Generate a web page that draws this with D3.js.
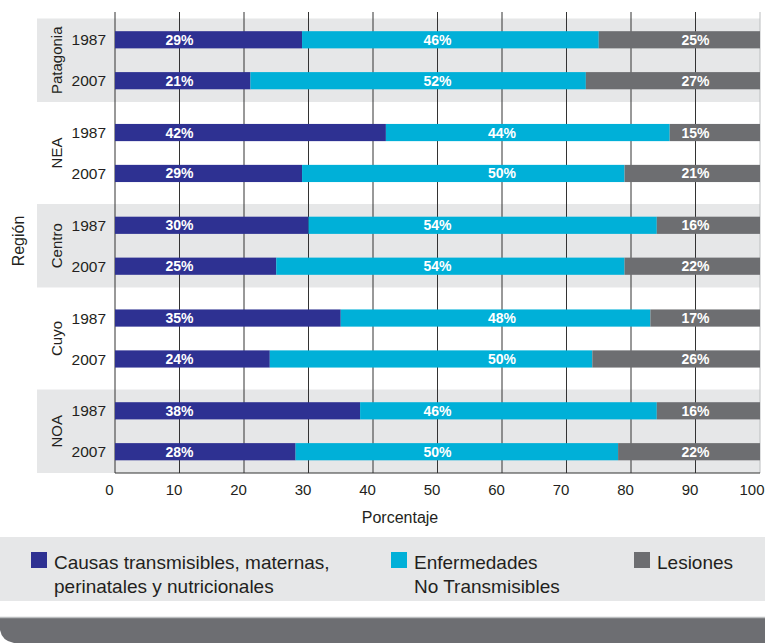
<!DOCTYPE html>
<html><head><meta charset="utf-8">
<script src="https://cdn.jsdelivr.net/npm/d3@7"></script>
<style>
body{margin:0;background:#fff}
svg{display:block;font-family:"Liberation Sans",Arial,Helvetica,sans-serif}
</style>
</head><body>
<svg id="chart" width="765" height="643"></svg>
<script>
// ---------- data ----------
const regions = ["Patagonia", "NEA", "Centro", "Cuyo", "NOA"];
const years = ["1987", "2007"];
// values per region/year, in order Patagonia 1987, Patagonia 2007, NEA 1987, ...
const causas       = [29, 21, 42, 29, 30, 25, 35, 24, 38, 28];
const enfermedades = [46, 52, 44, 50, 54, 54, 48, 50, 46, 50];
const lesiones     = [25, 27, 15, 21, 16, 22, 17, 26, 16, 22];
const seriesNames = [
  ["Causas transmisibles, maternas,", "perinatales y nutricionales"],
  ["Enfermedades", "No Transmisibles"],
  ["Lesiones"]
];
const xTicks = [0, 10, 20, 30, 40, 50, 60, 70, 80, 90, 100];
const xTitle = "Porcentaje";
const yTitle = "Región";

// ---------- build rows ----------
const rows = [];
regions.forEach((r, ri) => years.forEach((y, yi) => {
  const i = ri * 2 + yi;
  rows.push({region: r, ri, year: y, vals: [causas[i], enfermedades[i], lesiones[i]]});
}));

const colors = ["#2e3192", "#00b0d8", "#6d6e71"];
const svg = d3.select("#chart");

const x = d3.scaleLinear().domain([0, 100]).range([115, 760]);
const yR = d3.scaleBand().domain(regions).range([18.5, 473]).paddingInner(0.1).paddingOuter(0);
const yY = d3.scaleBand().domain(years).range([0, yR.bandwidth()]).paddingInner(0.58).paddingOuter(0.31);

// shaded bands
svg.append("g").selectAll("rect")
  .data(regions.filter((d, i) => i % 2 === 0))
  .join("rect")
  .attr("x", 37).attr("width", 760 - 37)
  .attr("y", d => yR(d)).attr("height", yR.bandwidth())
  .attr("fill", "#e6e7e8");

const axisY = yR(regions[regions.length - 1]) + yR.bandwidth();

// grid lines
svg.append("g").selectAll("line")
  .data(xTicks).join("line")
  .attr("x1", d => x(d)).attr("x2", d => x(d))
  .attr("y1", 12).attr("y2", axisY)
  .attr("stroke", d => d === 100 ? "#bcbec0" : "#333333")
  .attr("stroke-width", 1);

// bars
svg.append("clipPath").attr("id", "plotclip")
  .append("rect").attr("x", x(0)).attr("y", 0).attr("width", x(100) - x(0)).attr("height", 480);

const barG = svg.append("g").attr("clip-path", "url(#plotclip)");
rows.forEach(row => {
  const yTop = yR(row.region) + yY(row.year);
  let acc = 0;
  row.vals.forEach((v, k) => {
    barG.append("rect")
      .attr("x", x(acc)).attr("width", x(acc + v) - x(acc))
      .attr("y", yTop).attr("height", yY.bandwidth())
      .attr("fill", colors[k]);
    acc += v;
  });
});

// bar labels
const labG = svg.append("g");
rows.forEach(row => {
  const yc = yR(row.region) + yY(row.year) + yY.bandwidth() / 2;
  const anchors = [10, row.ri % 2 === 0 ? 50 : 60, 90];
  row.vals.forEach((v, k) => {
    labG.append("text")
      .attr("x", x(anchors[k])).attr("y", yc).attr("dy", "0.36em")
      .attr("text-anchor", "middle")
      .attr("fill", "#ffffff").attr("font-weight", "bold").attr("font-size", 14)
      .text(v + "%");
  });
});

// bottom axis line
svg.append("line").attr("x1", x(0)).attr("x2", x(100)).attr("y1", axisY).attr("y2", axisY)
  .attr("stroke", "#333333").attr("stroke-width", 1);

// x tick labels
const xAxis = d3.axisBottom(x).tickValues(xTicks).tickSize(0).tickPadding(0);
const xa = svg.append("g").attr("transform", "translate(-6,484)").call(xAxis);
xa.select(".domain").remove();
xa.selectAll("text").attr("font-size", 15).attr("fill", "#231f20")
  .attr("font-family", "'Liberation Sans',Arial,sans-serif");
// keep the last tick label inside the page
xa.selectAll(".tick").filter(d => d === 100).select("text")
  .attr("text-anchor", "end").attr("x", 10);

svg.append("text").attr("x", 400).attr("y", 523).attr("text-anchor", "middle")
  .attr("font-size", 16).attr("fill", "#231f20").text(xTitle);

// y labels: years
rows.forEach(row => {
  svg.append("text")
    .attr("x", 106).attr("y", yR(row.region) + yY(row.year) + yY.bandwidth() / 2)
    .attr("dy", "0.36em").attr("text-anchor", "end")
    .attr("font-size", 15.5).attr("fill", "#231f20").text(row.year);
});
// y labels: regions
regions.forEach(r => {
  const cy = yR(r) + yR.bandwidth() / 2;
  svg.append("text")
    .attr("transform", `translate(57,${cy}) rotate(-90)`)
    .attr("dy", "0.36em").attr("text-anchor", "middle")
    .attr("font-size", 15).attr("fill", "#231f20").text(r);
});
svg.append("text")
  .attr("transform", "translate(18,241) rotate(-90)")
  .attr("dy", "0.36em").attr("text-anchor", "middle")
  .attr("font-size", 16).attr("fill", "#231f20").text(yTitle);

// legend
svg.append("rect").attr("x", 0).attr("y", 537).attr("width", 765).attr("height", 64).attr("fill", "#e6e7e8");
const legX = [31, 391, 634];
seriesNames.forEach((lines, k) => {
  svg.append("rect").attr("x", legX[k]).attr("y", 552).attr("width", 16).attr("height", 16).attr("fill", colors[k]);
  const t = svg.append("text").attr("x", legX[k] + 23).attr("y", 569)
    .attr("font-size", 19).attr("fill", "#231f20");
  lines.forEach((ln, j) => {
    t.append("tspan").attr("x", legX[k] + 23).attr("dy", j === 0 ? 0 : 24).text(ln);
  });
});

// footer
svg.append("path")
  .attr("d", "M0,617 H765 V643 H14 Q2,641 0,630 Z")
  .attr("fill", "#6d6e72");
svg.append("line").attr("x1", 0).attr("x2", 765).attr("y1", 617.5).attr("y2", 617.5)
  .attr("stroke", "#bcbec0").attr("stroke-width", 1.5);
</script>
</body></html>
